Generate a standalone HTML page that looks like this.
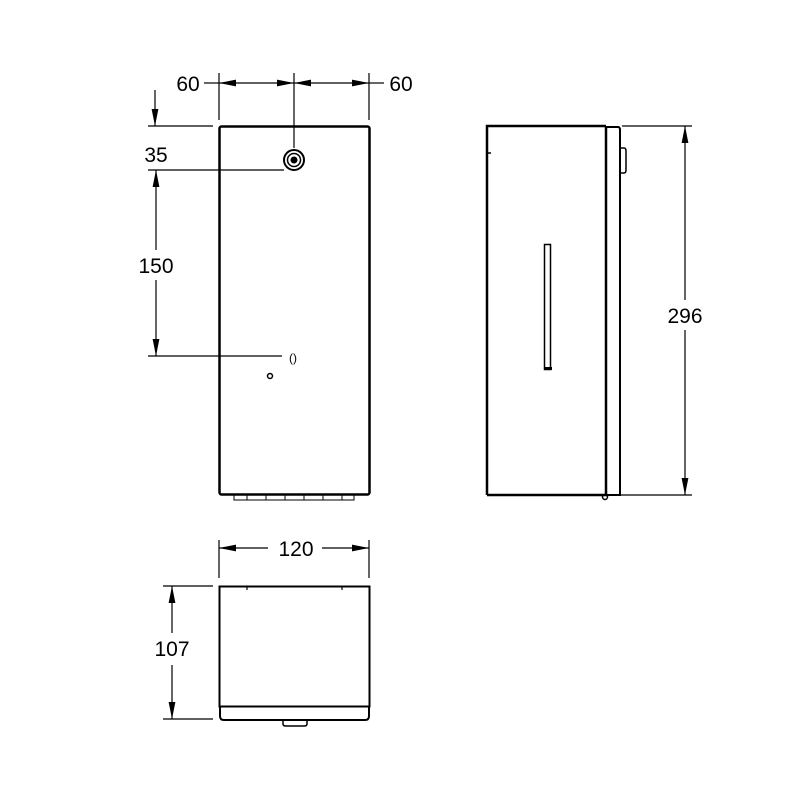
<!DOCTYPE html>
<html><head><style>html,body{margin:0;padding:0;background:#fff}svg{display:block}</style></head>
<body>
<svg width="800" height="800" viewBox="0 0 800 800" xmlns="http://www.w3.org/2000/svg">
<defs>
<marker id="a" viewBox="0 0 10 4" refX="10" refY="2" markerWidth="17" markerHeight="8" markerUnits="userSpaceOnUse" orient="auto-start-reverse"><path d="M0,0 L10,2 L0,4 z" fill="#000"/></marker>
</defs>
<g font-family="Liberation Sans, sans-serif" font-size="21" fill="#000">
<g stroke="#000" stroke-width="1.2" fill="none">
<line x1="219" y1="73" x2="219" y2="120"/>
<line x1="294" y1="73" x2="294" y2="148"/>
<line x1="369" y1="73" x2="369" y2="120"/>
<line x1="204" y1="83" x2="219" y2="83"/>
<line x1="369" y1="83" x2="384" y2="83"/>
<line x1="256" y1="83" x2="219" y2="83" marker-end="url(#a)"/>
<line x1="256" y1="83" x2="294" y2="83" marker-end="url(#a)"/>
<line x1="331" y1="83" x2="294" y2="83" marker-end="url(#a)"/>
<line x1="331" y1="83" x2="369" y2="83" marker-end="url(#a)"/>
<line x1="155" y1="90" x2="155" y2="126" marker-end="url(#a)"/>
<line x1="148" y1="126" x2="213" y2="126"/>
<line x1="148" y1="170" x2="284" y2="170"/>
<line x1="148" y1="356" x2="282" y2="356"/>
<line x1="156" y1="250" x2="156" y2="170" marker-end="url(#a)"/>
<line x1="156" y1="280" x2="156" y2="356" marker-end="url(#a)"/>
<line x1="622" y1="126" x2="692" y2="126"/>
<line x1="612" y1="495" x2="692" y2="495"/>
<line x1="685" y1="300" x2="685" y2="126" marker-end="url(#a)"/>
<line x1="685" y1="330" x2="685" y2="495" marker-end="url(#a)"/>
<line x1="219" y1="540" x2="219" y2="578"/>
<line x1="369" y1="540" x2="369" y2="578"/>
<line x1="268" y1="548" x2="219" y2="548" marker-end="url(#a)"/>
<line x1="322" y1="548" x2="369" y2="548" marker-end="url(#a)"/>
<line x1="163" y1="586" x2="213" y2="586"/>
<line x1="163" y1="719" x2="213" y2="719"/>
<line x1="172" y1="633" x2="172" y2="586" marker-end="url(#a)"/>
<line x1="172" y1="665" x2="172" y2="719" marker-end="url(#a)"/>
</g>
<text x="188" y="91" text-anchor="middle">60</text>
<text x="401" y="91" text-anchor="middle">60</text>
<text x="156" y="162" text-anchor="middle">35</text>
<text x="156" y="273" text-anchor="middle">150</text>
<text x="685" y="323" text-anchor="middle">296</text>
<text x="296" y="556" text-anchor="middle">120</text>
<text x="172" y="656" text-anchor="middle">107</text>

<g stroke="#000" fill="none">
<rect x="219.5" y="126.5" width="150" height="368" rx="2" stroke-width="2.5"/>
<rect x="234" y="494" width="120" height="6" stroke-width="1"/>
<line x1="247" y1="494" x2="247" y2="500" stroke-width="1"/>
<line x1="266" y1="494" x2="266" y2="500" stroke-width="1"/>
<line x1="285" y1="494" x2="285" y2="500" stroke-width="1"/>
<line x1="304" y1="494" x2="304" y2="500" stroke-width="1"/>
<line x1="323" y1="494" x2="323" y2="500" stroke-width="1"/>
<line x1="342" y1="494" x2="342" y2="500" stroke-width="1"/>
<circle cx="294" cy="160" r="10" stroke-width="2"/>
<circle cx="294" cy="160" r="6.5" stroke-width="1.5"/>
<circle cx="270" cy="376" r="2.5" stroke-width="1.5"/>
</g>
<circle cx="294" cy="160" r="3.5" fill="#000"/>
<text x="293" y="362" text-anchor="middle" font-size="12">()</text>

<g stroke="#000" fill="none">
<path d="M487,495 L487,126 L606,126 M606,126 L606,495 L487,495" stroke-width="2.5"/>
<path d="M606,127 L618,127 Q620,127 620,130 L620,495 L606,495" stroke-width="2"/>
<path d="M620,148 L624,148 Q626,148 626,151 L626,170 Q626,173 624,173 L620,173" stroke-width="1.5"/>
<rect x="544.5" y="244.5" width="6" height="125" stroke-width="1.5"/>
<line x1="487" y1="153" x2="491" y2="153" stroke-width="1.5"/>
<circle cx="605" cy="497" r="2.5" stroke-width="1.5"/>
</g>
<rect x="544" y="367" width="8" height="3" fill="#000"/>

<g stroke="#000" fill="none">
<rect x="219.5" y="586.5" width="150" height="120" stroke-width="2"/>
<line x1="247" y1="586" x2="247" y2="590" stroke-width="1.2"/>
<line x1="342" y1="586" x2="342" y2="590" stroke-width="1.2"/>
<path d="M220,706 L220,716 Q220,720 224,720 L365,720 Q369,720 369,716 L369,706" stroke-width="2"/>
<path d="M283,720 L283,724 Q283,726 286,726 L304,726 Q307,726 307,724 L307,720" stroke-width="1.5"/>
</g>
</g>
</svg>
</body></html>
